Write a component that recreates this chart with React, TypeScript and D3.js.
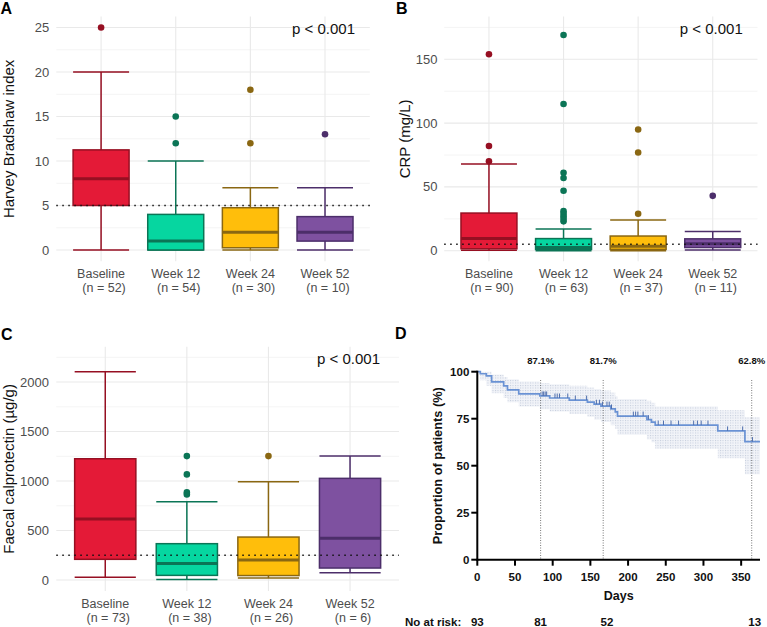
import React from 'react';
import * as d3 from 'd3';

// ---------- Data ----------
const categories = ['Baseline', 'Week 12', 'Week 24', 'Week 52'];

// Harvey Bradshaw index
const hbiN = [52, 54, 30, 10];
const hbiLow = [0, 0, 0, 0];
const hbiQ1 = [5, 0, 0.25, 1];
const hbiMedian = [8, 1, 2, 2];
const hbiQ3 = [11.25, 4, 4.75, 3.75];
const hbiHigh = [20, 10, 7, 7];
const hbiOutliers = [[25], [12, 15], [12, 18], [13]];
const hbiMajor = [0, 5, 10, 15, 20, 25];
const hbiMinor = [2.5, 7.5, 12.5, 17.5, 22.5];

// CRP
const crpN = [90, 63, 37, 11];
const crpLow = [0.3, 0, 0, 0.5];
const crpQ1 = [1.5, 1, 1, 2.5];
const crpMedian = [9.5, 2.5, 3.5, 5.5];
const crpQ3 = [29.5, 9.5, 11.5, 9.3];
const crpHigh = [68, 17, 24, 15];
const crpOutliers = [
  [70, 82, 154],
  [23, 25, 27, 29, 31, 47, 57, 61, 115, 169],
  [29, 77, 95],
  [43],
];
const crpMajor = [0, 50, 100, 150];
const crpMinor = [25, 75, 125, 175];

// Faecal calprotectin
const fcpN = [73, 38, 26, 6];
const fcpLow = [27, 5, 20, 74];
const fcpQ1 = [209, 47, 45, 121];
const fcpMedian = [616, 168, 202, 421];
const fcpQ3 = [1225, 367, 434, 1027];
const fcpHigh = [2104, 791, 993, 1252];
const fcpOutliers = [[], [865, 885, 1067, 1252], [1252], []];
const fcpMajor = [0, 500, 1000, 1500, 2000];
const fcpMinor = [250, 750, 1250, 1750, 2250];

// Kaplan-Meier
const kmDays = [0, 4, 12, 19, 35, 40, 55, 83, 96, 122, 146, 155, 164, 177, 183, 186, 225, 231, 236, 319, 355, 375];
const kmSurv = [100, 98.9, 97.8, 94.6, 92.5, 90.3, 88.2, 87.1, 86.0, 84.9, 83.8, 82.7, 81.7, 80.2, 78.6, 76.4, 74.5, 73.2, 71.6, 68.5, 62.8, 62.8];
const kmUpper = [100, 100, 100, 98.5, 97.2, 96, 94.8, 94, 93.3, 92.5, 91.6, 90.8, 90, 89, 87, 85.5, 84.5, 83.5, 81.5, 79.5, 75.8, 75.8];
const kmLower = [100, 95.5, 92.5, 88.5, 86, 83.8, 81.5, 80, 78.8, 77.5, 76, 74.5, 73.2, 71.5, 69.5, 66.5, 64, 62.5, 59, 54, 45.5, 45.5];
const kmCensor = [86, 88, 90, 92, 103, 106, 109, 120, 130, 145, 158, 162, 166, 172, 175, 178, 207, 210, 213, 220, 227, 240, 247, 257, 267, 287, 292, 297, 306, 332, 352, 365];
const kmMarkDays = [84, 167, 364];
const kmMarkLabels = ['87.1%', '81.7%', '62.8%'];
const kmXTicks = [0, 50, 100, 150, 200, 250, 300, 350];
const kmYTicks = [0, 25, 50, 75, 100];
const riskDays = [0, 84, 172, 368];
const riskCounts = [93, 81, 52, 13];

// ---------- Styles ----------
const fills = ['#E41A37', '#06D6A0', '#FFBE0B', '#7E51A0'];
const strokes = ['#960F22', '#0B7556', '#8A6712', '#4C2E6A'];
const FONT = '"Liberation Sans", Arial, Helvetica, sans-serif';

type BoxProps = {
  left: number; right: number; top: number; bottom: number;
  domain: [number, number];
  major: number[]; minor: number[];
  low: number[]; q1: number[]; med: number[]; q3: number[]; high: number[];
  outliers: number[][]; ns: number[];
  threshold: number; title: string;
  titleX: number; tickX: number; lab1: number; lab2: number; pY: number;
};

function BoxPanel(p: BoxProps) {
  const x = d3.scalePoint<string>().domain(categories).range([p.left, p.right]).padding(0.6);
  const y = d3.scaleLinear().domain(p.domain).range([p.bottom, p.top]);
  const step = x.step();
  const bw = step * 0.75;
  const lastX = x(categories[categories.length - 1])!;
  const midY = (p.top + p.bottom) / 2;
  return (
    <g>
      {p.minor.map((t) => (
        <line key={'mi' + t} x1={p.left} x2={p.right} y1={y(t)} y2={y(t)} stroke="#f1f1f1" strokeWidth={0.8} />
      ))}
      {p.major.map((t) => (
        <line key={'ma' + t} x1={p.left} x2={p.right} y1={y(t)} y2={y(t)} stroke="#e9e9e9" strokeWidth={1.1} />
      ))}
      {categories.map((c) => (
        <line key={'v' + c} x1={x(c)} x2={x(c)} y1={p.top} y2={p.bottom} stroke="#e9e9e9" strokeWidth={1.1} />
      ))}
      {categories.map((c, i) => {
        const cx = x(c)!;
        return (
          <g key={'b' + c}>
            <line x1={cx} x2={cx} y1={y(p.low[i])} y2={y(p.high[i])} stroke={strokes[i]} strokeWidth={1.5} />
            <line x1={cx - bw / 2} x2={cx + bw / 2} y1={y(p.low[i])} y2={y(p.low[i])} stroke={strokes[i]} strokeWidth={1.5} />
            <line x1={cx - bw / 2} x2={cx + bw / 2} y1={y(p.high[i])} y2={y(p.high[i])} stroke={strokes[i]} strokeWidth={1.5} />
            <rect x={cx - bw / 2} width={bw} y={y(p.q3[i])} height={Math.max(0.5, y(p.q1[i]) - y(p.q3[i]))}
              fill={fills[i]} stroke={strokes[i]} strokeWidth={1.5} />
            <line x1={cx - bw / 2} x2={cx + bw / 2} y1={y(p.med[i])} y2={y(p.med[i])} stroke={strokes[i]} strokeWidth={3} />
            {p.outliers[i].map((o, j) => (
              <circle key={j} cx={cx} cy={y(o)} r={3.3} fill={strokes[i]} />
            ))}
          </g>
        );
      })}
      <line x1={p.left} x2={p.right} y1={y(p.threshold)} y2={y(p.threshold)} stroke="#111" strokeWidth={1.5}
        strokeDasharray="1.5,4.5" />
      {p.major.map((t) => (
        <text key={'tl' + t} x={p.tickX} y={y(t)} dy="0.35em" textAnchor="end" fontSize={13} fill="#4d4d4d" fontFamily={FONT}>
          {t}
        </text>
      ))}
      {categories.map((c, i) => (
        <g key={'xl' + c}>
          <text x={x(c)} y={p.lab1} textAnchor="middle" fontSize={12.5} fill="#4d4d4d" fontFamily={FONT}>{c}</text>
          <text x={x(c)! + 3} y={p.lab2} textAnchor="middle" fontSize={12.5} fill="#4d4d4d" fontFamily={FONT}>
            {`(n = ${p.ns[i]})`}
          </text>
        </g>
      ))}
      <text transform={`translate(${p.titleX},${midY}) rotate(-90)`} textAnchor="middle" fontSize={15} fill="#111" fontFamily={FONT}>
        {p.title}
      </text>
      <text x={lastX + 30} y={p.pY} textAnchor="end" fontSize={15} fill="#111" fontFamily={FONT}>p &lt; 0.001</text>
    </g>
  );
}

function KMPanel() {
  const x = d3.scaleLinear().domain([0, 375]).range([477.3, 760]);
  const y = d3.scaleLinear().domain([0, 100]).range([559.7, 371.7]);
  const idx = d3.range(kmDays.length);
  const line = d3.line<number>().x((i) => x(kmDays[i])).y((i) => y(kmSurv[i])).curve(d3.curveStepAfter);
  const area = d3.area<number>().x((i) => x(kmDays[i])).y0((i) => y(kmLower[i])).y1((i) => y(kmUpper[i])).curve(d3.curveStepAfter);
  const survAt = (d: number) => {
    let v = kmSurv[0];
    for (let i = 0; i < kmDays.length; i++) if (kmDays[i] <= d) v = kmSurv[i];
    return v;
  };
  return (
    <g fontFamily={FONT} fontWeight="bold">
      <defs>
        <pattern id="dots" width="2.5" height="2.5" patternUnits="userSpaceOnUse">
          <rect width="2.5" height="2.5" fill="#f1f3f8" />
          <rect width="1" height="1" fill="#c3cbdb" />
        </pattern>
      </defs>
      <path d={area(idx) || ''} fill="url(#dots)" />
      {kmMarkDays.map((d, i) => (
        <g key={'m' + d}>
          <line x1={x(d)} x2={x(d)} y1={380} y2={y(0)} stroke="#555" strokeWidth={0.8} strokeDasharray="1,1.5" />
          <text x={x(d)} y={363.5} textAnchor="middle" fontSize={9.5} fill="#111">{kmMarkLabels[i]}</text>
        </g>
      ))}
      <path d={line(idx) || ''} fill="none" stroke="#6a92d4" strokeWidth={1.7} />
      {kmCensor.map((d) => (
        <line key={'c' + d} x1={x(d)} x2={x(d)} y1={y(survAt(d))} y2={y(survAt(d)) - 4.5} stroke="#4f6fae" strokeWidth={1} />
      ))}
      <line x1={x(0)} x2={x(0)} y1={y(0) + 1} y2={y(100) - 1} stroke="#000" strokeWidth={2} />
      <line x1={x(0) - 1} x2={x(375)} y1={y(0)} y2={y(0)} stroke="#000" strokeWidth={2} />
      {kmYTicks.map((t) => (
        <g key={'yt' + t}>
          <line x1={x(0) - 6} x2={x(0)} y1={y(t)} y2={y(t)} stroke="#000" strokeWidth={2} />
          <text x={x(0) - 8} y={y(t)} dy="0.36em" textAnchor="end" fontSize={11.5} fill="#111">{t}</text>
        </g>
      ))}
      {kmXTicks.map((t) => (
        <g key={'xt' + t}>
          <line x1={x(t)} x2={x(t)} y1={y(0)} y2={y(0) + 6} stroke="#000" strokeWidth={2} />
          <text x={x(t)} y={580.7} textAnchor="middle" fontSize={11.5} fill="#111">{t}</text>
        </g>
      ))}
      <text x={(x(0) + x(375)) / 2} y={600} textAnchor="middle" fontSize={12.5} fill="#111">Days</text>
      <text transform={`translate(442,${(y(0) + y(100)) / 2}) rotate(-90)`} textAnchor="middle" fontSize={12.8} fill="#111">
        Proportion of patients (%)
      </text>
      <text x={405} y={626} fontSize={11.5} fill="#111">No at risk:</text>
      {riskDays.map((d, i) => (
        <text key={'r' + d} x={x(d)} y={626} textAnchor="middle" fontSize={11.5} fill="#111">{riskCounts[i]}</text>
      ))}
    </g>
  );
}

export default function App() {
  return (
    <svg width={767} height={627} style={{ position: 'absolute', left: 0, top: 0, background: '#fff' }}>
      <rect width={767} height={627} fill="#fff" />
      <BoxPanel left={56.3} right={369.8} top={16.4} bottom={261.3} domain={[-1.27, 26.25]}
        major={hbiMajor} minor={hbiMinor} low={hbiLow} q1={hbiQ1} med={hbiMedian} q3={hbiQ3} high={hbiHigh}
        outliers={hbiOutliers} ns={hbiN} threshold={5} title="Harvey Bradshaw index"
        titleX={14} tickX={49.3} lab1={278} lab2={291.5} pY={34} />
      <BoxPanel left={444.2} right={757.5} top={16.4} bottom={261.3} domain={[-8.3, 183.6]}
        major={crpMajor} minor={crpMinor} low={crpLow} q1={crpQ1} med={crpMedian} q3={crpQ3} high={crpHigh}
        outliers={crpOutliers} ns={crpN} threshold={5} title="CRP (mg/L)"
        titleX={410} tickX={437.5} lab1={278} lab2={291.5} pY={34} />
      <BoxPanel left={56.3} right={399} top={346.7} bottom={591} domain={[-111, 2357]}
        major={fcpMajor} minor={fcpMinor} low={fcpLow} q1={fcpQ1} med={fcpMedian} q3={fcpQ3} high={fcpHigh}
        outliers={fcpOutliers} ns={fcpN} threshold={250} title="Faecal calprotectin (µg/g)"
        titleX={14} tickX={49} lab1={608} lab2={621.5} pY={363.5} />
      <KMPanel />
      <g fontFamily={FONT} fontWeight="bold" fontSize={16} fill="#000">
        <text x={0.5} y={13.5}>A</text>
        <text x={396} y={13.5}>B</text>
        <text x={1} y={340}>C</text>
        <text x={395} y={339}>D</text>
      </g>
    </svg>
  );
}
